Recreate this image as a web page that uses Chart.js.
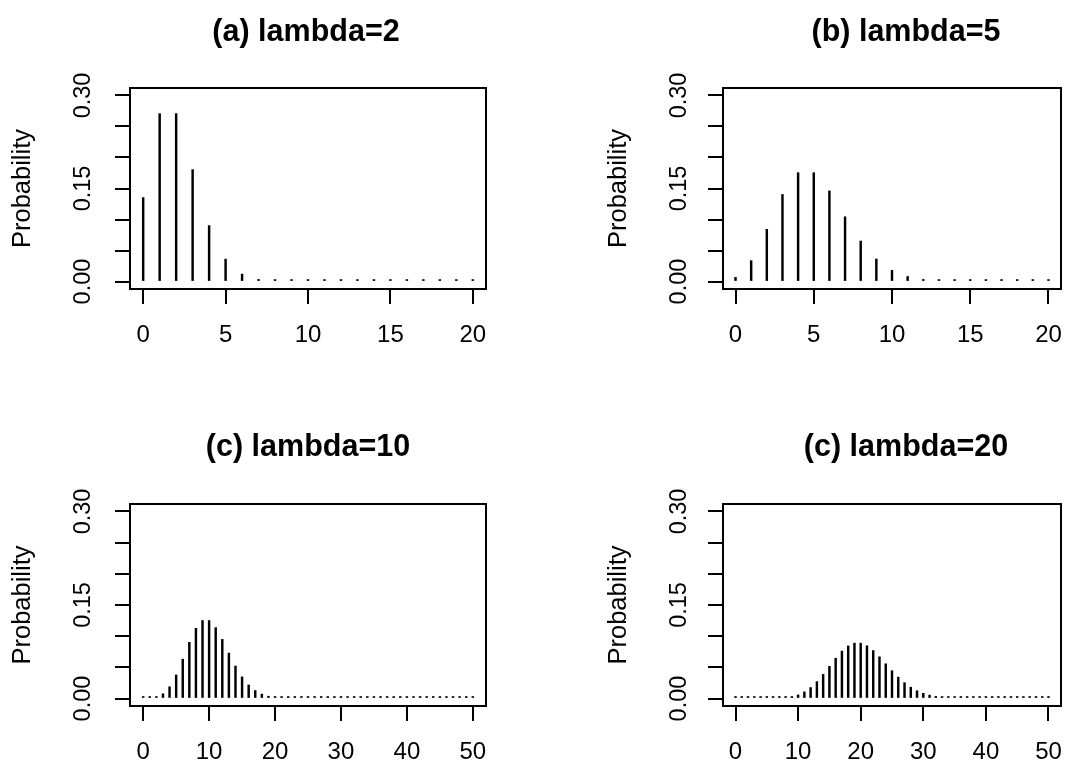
<!DOCTYPE html>
<html>
<head>
<meta charset="utf-8">
<script src="https://cdn.jsdelivr.net/npm/chart.js@4/dist/chart.umd.min.js"></script>
<style>
  body { margin: 0; background: #fff; }
  #wrap { position: relative; width: 1090px; height: 764px; }
  #wrap canvas { position: absolute; left: 0; top: 0; }
</style>
</head>
<body>
<div id="wrap">
  <canvas id="c1" width="1090" height="764"></canvas>
  <canvas id="c2" width="1090" height="764"></canvas>
  <canvas id="c3" width="1090" height="764"></canvas>
  <canvas id="c4" width="1090" height="764"></canvas>
</div>
<script>
// outcomes k
const kShort = [0, 1, 2, 3, 4, 5, 6, 7, 8, 9, 10, 11, 12, 13, 14, 15, 16, 17, 18, 19, 20];
const kLong = [0, 1, 2, 3, 4, 5, 6, 7, 8, 9, 10, 11, 12, 13, 14, 15, 16, 17, 18, 19, 20,
  21, 22, 23, 24, 25, 26, 27, 28, 29, 30, 31, 32, 33, 34, 35, 36, 37, 38, 39, 40,
  41, 42, 43, 44, 45, 46, 47, 48, 49, 50];

// probabilities (tails are tiny but drawn as dots)
const probLambda2 = [0.1353, 0.2707, 0.2707, 0.1804, 0.0902, 0.0361, 0.0120, 0.0034, 0.0009, 0.0002,
  0.00004, 0.00001, 0.00001, 0.00001, 0.00001, 0.00001, 0.00001, 0.00001, 0.00001, 0.00001, 0.00001];
const probLambda5 = [0.0067, 0.0337, 0.0842, 0.1404, 0.1755, 0.1755, 0.1462, 0.1044, 0.0653, 0.0363,
  0.0181, 0.0082, 0.0034, 0.0013, 0.0005, 0.0002, 0.00005, 0.00001, 0.00001, 0.00001, 0.00001];
const probLambda10 = [0.00005, 0.0005, 0.0023, 0.0076, 0.0189, 0.0378, 0.0631, 0.0901, 0.1126, 0.1251,
  0.1251, 0.1137, 0.0948, 0.0729, 0.0521, 0.0347, 0.0217, 0.0128, 0.0071, 0.0037,
  0.0019, 0.0009, 0.0004, 0.0002, 0.0001, 0.00004, 0.00001, 0.00001, 0.00001, 0.00001,
  0.00001, 0.00001, 0.00001, 0.00001, 0.00001, 0.00001, 0.00001, 0.00001, 0.00001, 0.00001,
  0.00001, 0.00001, 0.00001, 0.00001, 0.00001, 0.00001, 0.00001, 0.00001, 0.00001, 0.00001, 0.00001];
const probLambda20 = [0.00001, 0.00001, 0.00001, 0.00001, 0.00001, 0.0001, 0.0002, 0.0005, 0.0013, 0.0029,
  0.0058, 0.0106, 0.0176, 0.0271, 0.0387, 0.0516, 0.0646, 0.0760, 0.0844, 0.0888,
  0.0888, 0.0846, 0.0769, 0.0669, 0.0557, 0.0446, 0.0343, 0.0254, 0.0181, 0.0125,
  0.0083, 0.0054, 0.0034, 0.0020, 0.0012, 0.0007, 0.0004, 0.0002, 0.0001, 0.00005,
  0.00001, 0.00001, 0.00001, 0.00001, 0.00001, 0.00001, 0.00001, 0.00001, 0.00001, 0.00001, 0.00001];

const xTicksShort = [0, 5, 10, 15, 20];
const xTicksLong = [0, 10, 20, 30, 40, 50];
const yTicks = [0, 0.05, 0.10, 0.15, 0.20, 0.25, 0.30];
const yLabelled = [0, 0.15, 0.30];
const titles = ['(a) lambda=2', '(b) lambda=5', '(c) lambda=10', '(c) lambda=20'];

const FONT = '"Liberation Sans", Arial, Helvetica, sans-serif';
Chart.defaults.font.family = FONT;
Chart.defaults.color = '#000';

// box = [left, top, right, bottom] of the plot frame
const panels = [
  { id: 'c1', k: kShort, p: probLambda2, xt: xTicksShort, title: titles[0], box: [130, 88, 486, 289], yw: 130, xh: 90, tx: 306, ty: 33 },
  { id: 'c2', k: kShort, p: probLambda5, xt: xTicksShort, title: titles[1], box: [723, 88, 1061, 289], yw: 127, xh: 90, tx: 906, ty: 33 },
  { id: 'c3', k: kLong, p: probLambda10, xt: xTicksLong, title: titles[2], box: [130, 504, 486, 706], yw: 130, xh: 58, tx: 308, ty: 448 },
  { id: 'c4', k: kLong, p: probLambda20, xt: xTicksLong, title: titles[3], box: [723, 504, 1061, 706], yw: 127, xh: 58, tx: 906, ty: 448 }
];

const frame = {
  id: 'frame',
  afterDraw(chart, args, opts) {
    const { ctx, chartArea: a } = chart;
    const y = chart.scales.y;
    ctx.save();
    ctx.strokeStyle = '#000';
    ctx.lineWidth = 2;
    ctx.strokeRect(a.left, a.top, a.right - a.left, a.bottom - a.top);
    ctx.fillStyle = '#000';
    ctx.textAlign = 'center';
    ctx.textBaseline = 'middle';
    ctx.font = '23.5px ' + FONT;
    yLabelled.forEach(v => {
      ctx.save();
      ctx.translate(y.left + 84, y.getPixelForValue(v));
      ctx.rotate(-Math.PI / 2);
      ctx.fillText(v.toFixed(2), 0, 0);
      ctx.restore();
    });
    ctx.font = 'bold 30.5px ' + FONT;
    ctx.fillText(opts.text, opts.x, opts.y);
    ctx.restore();
  }
};

function makePanel(cfg) {
  const [L, T, R, B] = cfg.box;
  const xMax = cfg.k[cfg.k.length - 1];
  const pad = xMax * 0.04;
  const gridStyle = {
    offset: false,
    drawOnChartArea: false,
    drawTicks: true,
    tickLength: 15,
    tickWidth: 2,
    tickColor: '#000',
    color: '#000',
    lineWidth: 2
  };
  new Chart(document.getElementById(cfg.id), {
    type: 'bar',
    data: {
      datasets: [{
        data: cfg.k.map((k, i) => ({ x: k, y: cfg.p[i] })),
        backgroundColor: '#000',
        borderWidth: 0,
        barThickness: 1.8,
        minBarLength: 2
      }]
    },
    options: {
      responsive: false,
      animation: false,
      events: [],
      layout: { padding: { left: L - cfg.yw, top: T, right: 1090 - R, bottom: 764 - B - cfg.xh } },
      plugins: {
        legend: { display: false },
        tooltip: { enabled: false },
        frame: { text: cfg.title, x: cfg.tx, y: cfg.ty }
      },
      scales: {
        x: {
          type: 'linear',
          offset: false,
          min: -pad,
          max: xMax + pad,
          grid: gridStyle,
          border: { display: false },
          ticks: { font: { size: 24 }, padding: 17, maxRotation: 0, autoSkip: false, color: '#000' },
          afterBuildTicks: s => { s.ticks = cfg.xt.map(v => ({ value: v })); },
          afterFit: s => { s.height = cfg.xh; }
        },
        y: {
          min: -0.012,
          max: 0.312,
          grid: gridStyle,
          border: { display: false },
          ticks: { display: false },
          title: { display: true, text: 'Probability', font: { size: 25.5 }, color: '#000', padding: { top: 8 } },
          afterBuildTicks: s => { s.ticks = yTicks.map(v => ({ value: v })); },
          afterFit: s => { s.width = cfg.yw; }
        }
      }
    },
    plugins: [frame]
  });
}

panels.forEach(makePanel);
</script>
</body>
</html>
